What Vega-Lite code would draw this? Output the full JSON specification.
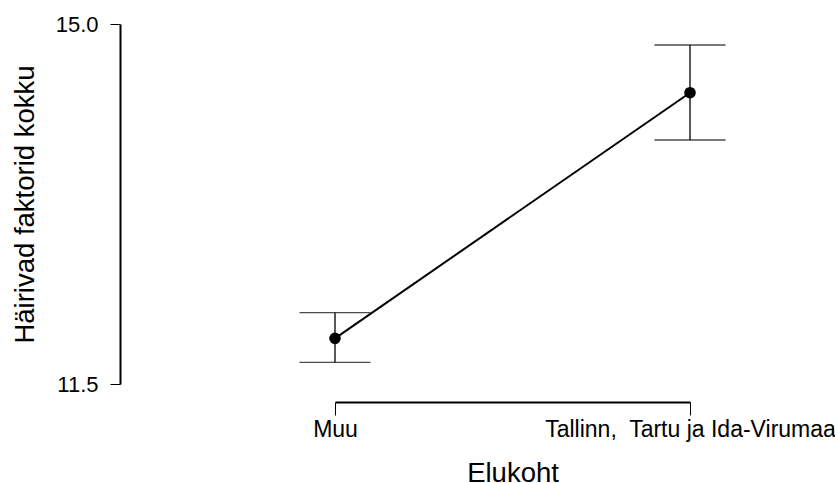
{
  "$schema": "https://vega.github.io/schema/vega-lite/v6.json",
  "autosize": {"type": "none"},
  "padding": {"left": 335, "top": 24, "right": 145, "bottom": 99},
  "width": 355,
  "height": 360,
  "background": "white",
  "config": {
    "view": {"stroke": null},
    "font": "Liberation Sans"
  },
  "data": {
    "values": [
      {"Elukoht": "Muu", "mean": 11.944, "lower": 11.711, "upper": 12.193},
      {"Elukoht": "Tallinn, Tartu ja Ida-Virumaa", "mean": 14.332, "lower": 13.872, "upper": 14.796}
    ]
  },
  "encoding": {
    "x": {
      "field": "Elukoht",
      "type": "nominal",
      "sort": ["Muu", "Tallinn, Tartu ja Ida-Virumaa"],
      "scale": {"type": "point", "padding": 0},
      "axis": {
        "title": "Elukoht",
        "offset": 18,
        "labelAngle": 0,
        "labelFont": "Liberation Sans",
        "labelFontSize": 23,
        "labelColor": "black",
        "labelPadding": 3,
        "labelLimit": 0,
        "labelOverlap": false,
        "labelExpr": "replace(datum.label, ', ', ',\u00a0 ')",
        "tickSize": 13,
        "tickColor": "black",
        "tickWidth": 1,
        "domainColor": "black",
        "domainWidth": 2,
        "grid": false,
        "titleFont": "Liberation Sans",
        "titleFontSize": 27.5,
        "titleFontWeight": "normal",
        "titleColor": "black",
        "titleBaseline": "alphabetic",
        "titleY": 79
      }
    }
  },
  "layer": [
    {
      "mark": {"type": "rule", "color": "black", "strokeWidth": 1.3},
      "encoding": {
        "y": {
          "field": "lower",
          "type": "quantitative",
          "scale": {"domain": [11.5, 15.0], "nice": false, "zero": false},
          "axis": {
            "title": "Häirivad faktorid kokku",
            "values": [11.5, 15.0],
            "format": ".1f",
            "offset": 215,
            "labelFont": "Liberation Sans",
            "labelFontSize": 22,
            "labelColor": "black",
            "labelPadding": 12,
            "tickSize": 10,
            "tickColor": "black",
            "tickWidth": 1,
            "domainColor": "black",
            "domainWidth": 2,
            "grid": false,
            "titleFont": "Liberation Sans",
            "titleFontSize": 27.5,
            "titleFontWeight": "normal",
            "titleColor": "black",
            "titleAngle": -90,
            "titleAlign": "center",
            "titleBaseline": "alphabetic",
            "titleX": -87,
            "titleY": 180
          }
        },
        "y2": {"field": "upper"}
      }
    },
    {
      "mark": {"type": "tick", "color": "black", "size": 71, "thickness": 1.3, "orient": "horizontal"},
      "encoding": {"y": {"field": "upper", "type": "quantitative"}}
    },
    {
      "mark": {"type": "tick", "color": "black", "size": 71, "thickness": 1.3, "orient": "horizontal"},
      "encoding": {"y": {"field": "lower", "type": "quantitative"}}
    },
    {
      "mark": {"type": "line", "color": "black", "strokeWidth": 2},
      "encoding": {"y": {"field": "mean", "type": "quantitative"}}
    },
    {
      "mark": {"type": "point", "filled": true, "color": "black", "opacity": 1, "size": 135},
      "encoding": {"y": {"field": "mean", "type": "quantitative"}}
    }
  ]
}
